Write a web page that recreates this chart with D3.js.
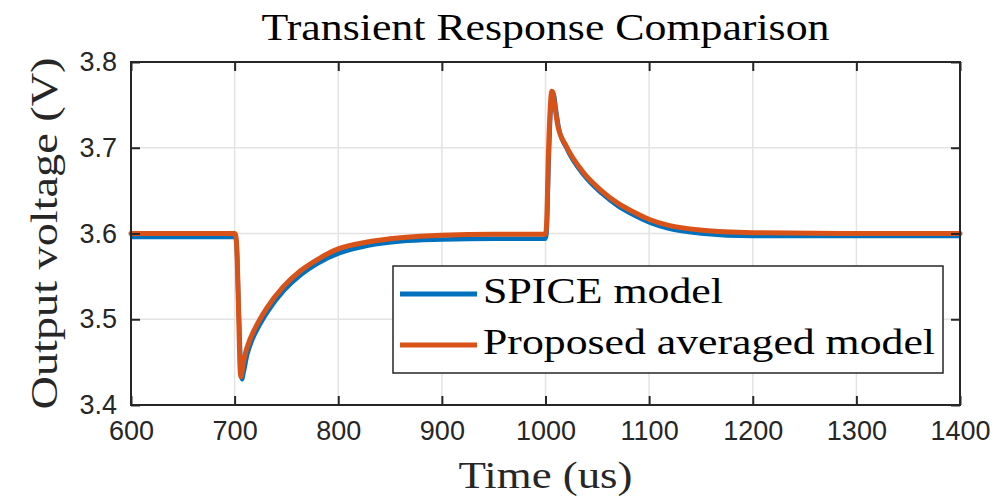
<!DOCTYPE html>
<html>
<head>
<meta charset="utf-8">
<script src="https://cdn.jsdelivr.net/npm/d3@7"></script>
<style>
  body { margin: 0; background: #fff; }
  svg { display: block; }
</style>
</head>
<body>
<div id="chart"></div>
<script>
// time axis (us) and output voltage (V)
const spiceTime = [600, 700, 701, 702, 704, 706, 707, 709, 712, 716, 724, 732, 748, 764, 780, 801, 829, 861, 900, 950, 1000, 1001, 1003, 1005, 1007, 1008, 1010, 1013, 1021, 1037, 1054, 1070, 1086, 1102, 1118, 1150, 1200, 1300, 1400];
const spiceVolt = [3.596, 3.596, 3.595, 3.585, 3.51, 3.445, 3.430, 3.440, 3.458, 3.473, 3.493, 3.509, 3.534, 3.552, 3.565, 3.577, 3.586, 3.591, 3.593, 3.594, 3.594, 3.60, 3.68, 3.745, 3.763, 3.762, 3.745, 3.722, 3.698, 3.668, 3.647, 3.632, 3.621, 3.612, 3.606, 3.600, 3.597, 3.597, 3.597];

const modelTime = [600, 700, 701, 702, 704, 705, 706, 708, 711, 715, 723, 731, 747, 763, 779, 800, 828, 860, 900, 950, 1000, 1001, 1003, 1005, 1006, 1007, 1009, 1012, 1020, 1036, 1053, 1069, 1085, 1101, 1117, 1149, 1200, 1300, 1400];
const modelVolt = [3.600, 3.600, 3.598, 3.585, 3.50, 3.45, 3.433, 3.447, 3.463, 3.477, 3.497, 3.513, 3.538, 3.556, 3.569, 3.582, 3.590, 3.595, 3.598, 3.599, 3.599, 3.61, 3.70, 3.755, 3.766, 3.765, 3.748, 3.725, 3.702, 3.672, 3.651, 3.636, 3.625, 3.616, 3.610, 3.604, 3.601, 3.600, 3.600];

const xTicks = [600, 700, 800, 900, 1000, 1100, 1200, 1300, 1400];
const yTicks = [3.4, 3.5, 3.6, 3.7, 3.8];
const seriesNames = ["SPICE model", "Proposed averaged model"];
const seriesColors = ["#0072BD", "#D95319"];

const W = 997, H = 500;
const margin = {top: 62, right: 37, bottom: 95, left: 131};
const width = W - margin.left - margin.right,
      height = H - margin.top - margin.bottom;

const svg = d3.select("#chart").append("svg")
    .attr("width", W)
    .attr("height", H);

const g = svg.append("g")
    .attr("transform", "translate(" + margin.left + "," + margin.top + ")");

const x = d3.scaleLinear().domain([600, 1400]).range([0, width]);
const y = d3.scaleLinear().domain([3.4, 3.8]).range([height, 0]);

const axisColor = "#262626";
const serif = "'Liberation Serif', 'Times New Roman', serif";
const sans = "'Liberation Sans', Arial, Helvetica, sans-serif";

// grid
g.append("g").selectAll("line").data(xTicks).enter().append("line")
    .attr("x1", d => x(d)).attr("x2", d => x(d))
    .attr("y1", 0).attr("y2", height)
    .attr("stroke", "#e3e3e3").attr("stroke-width", 1.5);
g.append("g").selectAll("line").data(yTicks).enter().append("line")
    .attr("y1", d => y(d)).attr("y2", d => y(d))
    .attr("x1", 0).attr("x2", width)
    .attr("stroke", "#e3e3e3").attr("stroke-width", 1.5);

// lines
const line = d3.line()
    .x(d => x(d[0]))
    .y(d => y(d[1]))
    .curve(d3.curveMonotoneX);

const spice = d3.zip(spiceTime, spiceVolt);
const model = d3.zip(modelTime, modelVolt);

const plot = g.append("g");
plot.append("path").datum(spice)
    .attr("d", line)
    .attr("fill", "none")
    .attr("stroke", seriesColors[0])
    .attr("stroke-width", 4.5)
    .attr("stroke-linejoin", "round");
plot.append("path").datum(model)
    .attr("d", line)
    .attr("fill", "none")
    .attr("stroke", seriesColors[1])
    .attr("stroke-width", 5)
    .attr("stroke-linejoin", "round")
    .attr("stroke-linecap", "round");

// axes (ticks inside, box on all sides)
function styleAxis(sel) {
    sel.select(".domain").remove();
    sel.selectAll(".tick line").attr("stroke", axisColor).attr("stroke-width", 2);
    sel.selectAll(".tick text")
        .attr("fill", axisColor)
        .style("font-family", sans)
        .style("font-size", "27px");
}

g.append("g")
    .attr("transform", "translate(0," + height + ")")
    .call(d3.axisBottom(x).tickValues(xTicks).tickSize(-9).tickPadding(16).tickFormat(d3.format("d")))
    .call(styleAxis)
    .selectAll(".tick text").attr("dy", "0.71em");

g.append("g")
    .call(d3.axisTop(x).tickValues(xTicks).tickSize(-9).tickFormat(""))
    .call(styleAxis);

g.append("g")
    .call(d3.axisLeft(y).tickValues(yTicks).tickSize(-9).tickPadding(14).tickFormat(d3.format(".1f")))
    .call(styleAxis);

g.append("g")
    .attr("transform", "translate(" + width + ",0)")
    .call(d3.axisRight(y).tickValues(yTicks).tickSize(-9).tickFormat(""))
    .call(styleAxis);

g.append("rect")
    .attr("width", width).attr("height", height)
    .attr("fill", "none")
    .attr("stroke", axisColor)
    .attr("stroke-width", 2);

// title and axis labels
svg.append("text")
    .attr("x", margin.left + width / 2).attr("y", 40)
    .attr("text-anchor", "middle")
    .attr("textLength", 568).attr("lengthAdjust", "spacingAndGlyphs")
    .style("font-family", serif).style("font-size", "37px")
    .attr("fill", "#000")
    .text("Transient Response Comparison");

svg.append("text")
    .attr("x", margin.left + width / 2).attr("y", 488)
    .attr("text-anchor", "middle")
    .attr("textLength", 174).attr("lengthAdjust", "spacingAndGlyphs")
    .style("font-family", serif).style("font-size", "37px")
    .attr("fill", "#262626")
    .text("Time (us)");

svg.append("text")
    .attr("transform", "translate(57," + (margin.top + height / 2) + ") rotate(-90)")
    .attr("text-anchor", "middle")
    .attr("textLength", 352).attr("lengthAdjust", "spacingAndGlyphs")
    .style("font-family", serif).style("font-size", "37px")
    .attr("fill", "#262626")
    .text("Output voltage (V)");

// legend
const legend = svg.append("g");
legend.append("rect")
    .attr("x", 393).attr("y", 266)
    .attr("width", 550).attr("height", 107)
    .attr("fill", "#fff")
    .attr("stroke", axisColor)
    .attr("stroke-width", 1.5);

const legendY = [294, 345];
const legendLen = [240, 452];
seriesNames.forEach(function(name, i) {
    legend.append("line")
        .attr("x1", 400).attr("x2", 477)
        .attr("y1", legendY[i]).attr("y2", legendY[i])
        .attr("stroke", seriesColors[i])
        .attr("stroke-width", 5);
    legend.append("text")
        .attr("x", 483).attr("y", legendY[i] + 9)
        .attr("textLength", legendLen[i]).attr("lengthAdjust", "spacingAndGlyphs")
        .style("font-family", serif).style("font-size", "35px")
        .attr("fill", "#000")
        .text(name);
});
</script>
</body>
</html>
